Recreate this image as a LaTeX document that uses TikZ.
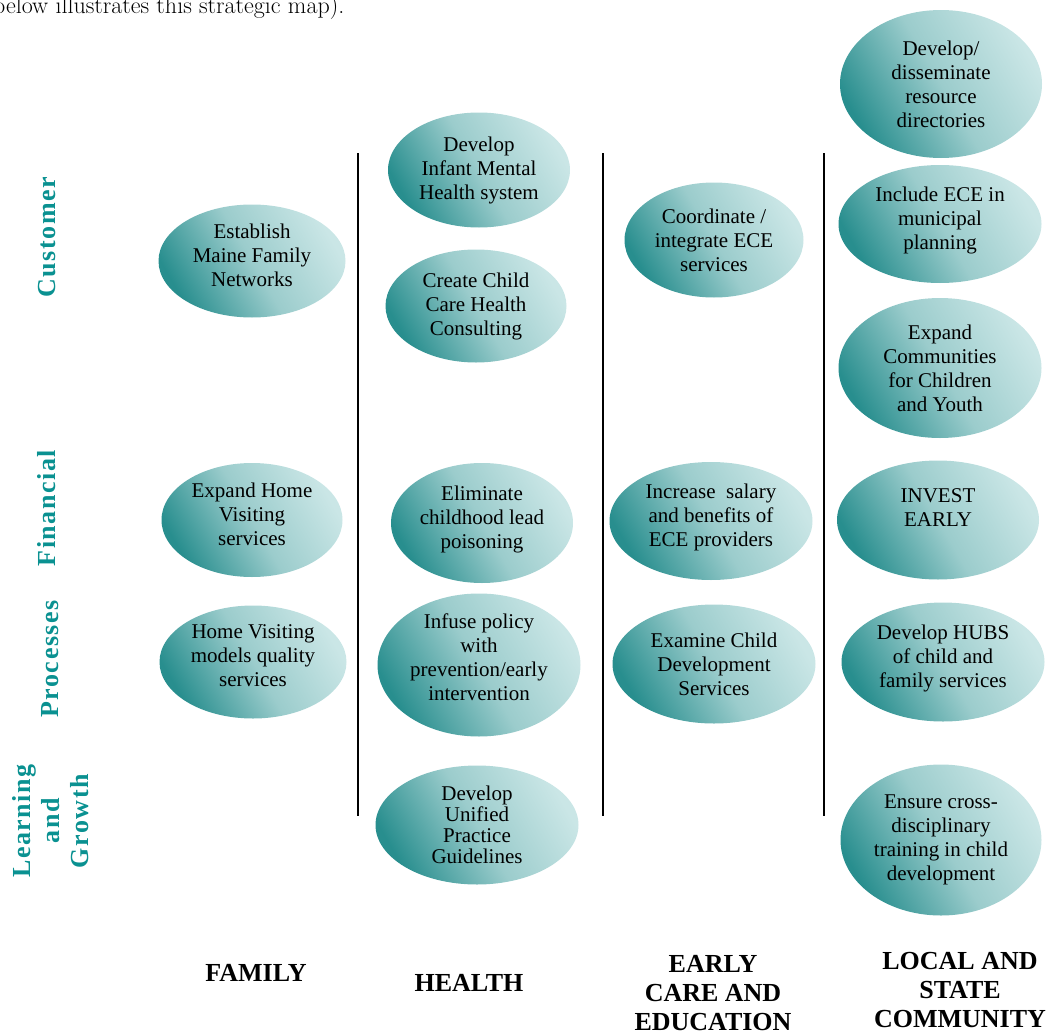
\documentclass[tikz,border=0pt]{standalone}
\usepackage{fontspec}
\newfontfamily\diagfont{Liberation Serif}
\usetikzlibrary{shapes.geometric}
\definecolor{ellDark}{RGB}{40,142,142}
\definecolor{ellMid}{RGB}{155,204,204}
\definecolor{ellLight}{RGB}{202,230,230}
\definecolor{rowTeal}{RGB}{10,145,145}

\begin{document}
\begin{tikzpicture}[
    x=1pt, y=-1pt,
    goal/.style={ellipse, inner sep=-20pt, align=center, top color=ellLight, bottom color=ellDark, middle color=ellMid, shading angle=-60, font=\diagfont\fontsize{21}{24}\selectfont},
    colhead/.style={align=center, font=\diagfont\bfseries\fontsize{26}{29}\selectfont},
    rowhead/.style={rotate=90, align=center, text=rowTeal, font=\diagfont\bfseries\fontsize{26}{29}\selectfont\addfontfeatures{LetterSpace=6}},
    divider/.style={line width=2pt, black}
]
\useasboundingbox (0,0) rectangle (1047,1036);

% last line of the running text above the figure
\node[anchor=base west, inner sep=0pt, font=\fontsize{24}{28}\selectfont] (intro) at (-7,13) {below illustrates this strategic map).};

% perspectives (rows)
\node[rowhead] (cust) at (47,237) {Customer};
\node[rowhead] (fin) at (47,508) {Financial};
\node[rowhead] (proc) at (50,659) {Processes};
\node[rowhead] (learn) at (51,821) {Learning\\and\\Growth};

% column dividers
\coordinate (d1top) at (358,153);
\coordinate (d1bot) at (358,816);
\coordinate (d2top) at (603,153);
\coordinate (d2bot) at (603,816);
\coordinate (d3top) at (824,153);
\coordinate (d3bot) at (824,816);
\draw[divider] (d1top) -- (d1bot);
\draw[divider] (d2top) -- (d2bot);
\draw[divider] (d3top) -- (d3bot);

% Family
\node[goal, minimum width=187, minimum height=113] (fam1) at (252,261) {Establish\\Maine Family\\Networks\\[-12pt]\mbox{}};
\node[goal, minimum width=181, minimum height=114] (fam2) at (252,520) {Expand Home\\Visiting\\services\\[-12pt]\mbox{}};
\node[goal, minimum width=187, minimum height=113] (fam3) at (253,662) {Home Visiting\\models quality\\services\\[-12pt]\mbox{}};

% Health
\node[goal, minimum width=182, minimum height=115] (hea1) at (479,170) {Develop\\Infant Mental\\Health system};
\node[goal, minimum width=181, minimum height=113] (hea2) at (476,306) {Create Child\\Care Health\\Consulting};
\node[goal, minimum width=182, minimum height=120] (hea3) at (482,523) {Eliminate\\childhood lead\\poisoning\\[-12pt]\mbox{}};
\node[goal, minimum width=203, minimum height=143] (hea4) at (479,665) {Infuse policy\\with\\prevention/early\\intervention\\[-8pt]\mbox{}};
\node[goal, minimum width=203, minimum height=119, font=\diagfont\fontsize{21}{21}\selectfont] (hea5) at (477,825) {Develop\\Unified\\Practice\\Guidelines};

% Early care and education
\node[goal, minimum width=179, minimum height=115] (ece1) at (714,240) {Coordinate /\\integrate ECE\\services};
\node[goal, minimum width=203, minimum height=118] (ece2) at (711,521) {Increase\ \ salary\\and benefits of\\ECE providers\\[-12pt]\mbox{}};
\node[goal, minimum width=203, minimum height=119] (ece3) at (714,664) {Examine Child\\Development\\Services};

% Local and state community
\node[goal, minimum width=202, minimum height=148] (loc1) at (941,84) {Develop/\\disseminate\\resource\\directories};
\node[goal, minimum width=203, minimum height=118] (loc2) at (940,224) {Include ECE in\\municipal\\planning\\[-12pt]\mbox{}};
\node[goal, minimum width=203, minimum height=140] (loc3) at (940,368) {Expand\\Communities\\for Children\\and Youth};
\node[goal, minimum width=202, minimum height=119] (loc4) at (938,520) {INVEST\\EARLY\\\mbox{}};
\node[goal, minimum width=203, minimum height=119] (loc5) at (943,662) {Develop HUBS\\of child and\\family services\\[-12pt]\mbox{}};
\node[goal, minimum width=201, minimum height=151] (loc6) at (941,840) {Ensure cross-\\disciplinary\\training in child\\development};

% column headings
\node[colhead] (famhd) at (256,973) {FAMILY};
\node[colhead] (heahd) at (469,983) {HEALTH};
\node[colhead] (ecehd) at (713,993) {EARLY\\CARE AND\\EDUCATION};
\node[colhead] (lochd) at (960,990) {LOCAL AND\\STATE\\COMMUNITY};

\end{tikzpicture}
\end{document}
